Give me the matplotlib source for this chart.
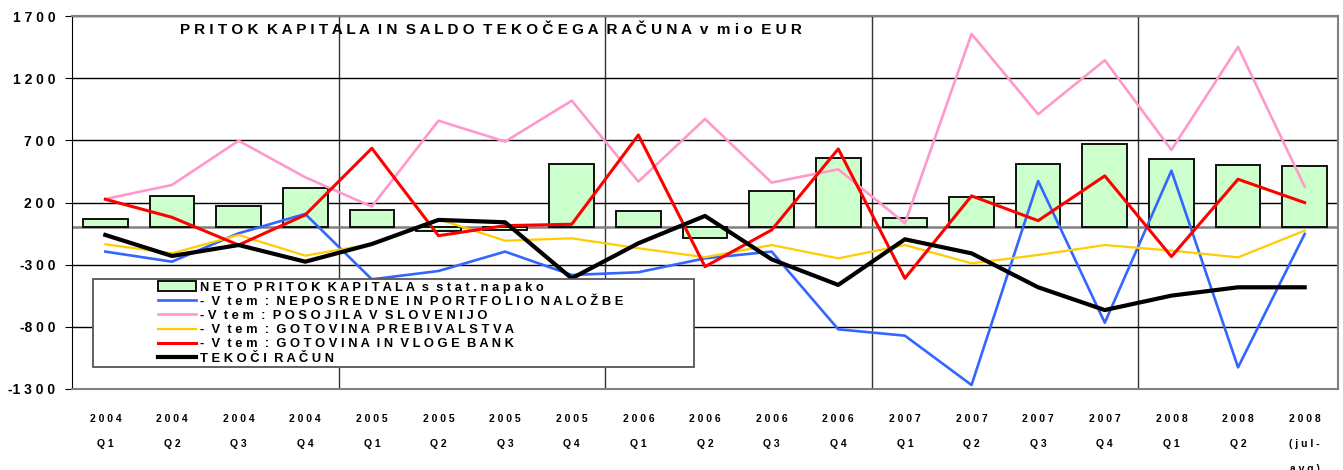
import numpy as np
import matplotlib.pyplot as plt
import matplotlib
from matplotlib.patches import Rectangle

matplotlib.rcParams['font.family'] = ['Liberation Sans', 'DejaVu Sans']
matplotlib.rcParams['font.weight'] = 'bold'

# data (mio EUR)
years = ['2004'] * 4 + ['2005'] * 4 + ['2006'] * 4 + ['2007'] * 4 + ['2008'] * 3
quarters = ['Q1', 'Q2', 'Q3', 'Q4'] * 4 + ['Q1', 'Q2', '(jul-\navg)']

neto = [68, 255, 175, 315, 143, -27, -25, 508, 132, -83, 295, 561,
        78, 242, 510, 671, 548, 502, 491]
neposredne = [-195, -276, -48, 108, -418, -351, -195, -383, -361, -249, -195, -820,
              -871, -1268, 373, -767, 456, -1126, -53]
posojila = [228, 341, 697, 403, 167, 858, 690, 1019, 368, 872, 360, 467,
            33, 1556, 910, 1344, 623, 1451, 327]
prebivalstva = [-136, -209, -61, -228, -134, 65, -107, -88, -168, -240, -142, -249,
                -142, -289, -222, -142, -187, -241, -26]
banke = [226, 81, -142, 100, 636, -67, 14, 25, 743, -316, -21, 631,
         -410, 253, 54, 414, -235, 387, 199]
tekoci = [-61, -230, -142, -276, -134, 60, 41, -410, -128, 92, -257, -463,
          -96, -209, -482, -665, -549, -482, -482]

legend_labels = ['NETO PRITOK KAPITALA s stat.napako',
                 '- V tem : NEPOSREDNE IN PORTFOLIO NALOŽBE',
                 '-V tem : POSOJILA V SLOVENIJO',
                 '- V tem : GOTOVINA PREBIVALSTVA',
                 '- V tem : GOTOVINA IN VLOGE BANK',
                 'TEKOČI RAČUN']
title = 'PRITOK KAPITALA IN SALDO TEKOČEGA RAČUNA v mio EUR'


def spaced(s):
    # excel style letter spacing
    return '  '.join(' '.join(w) for w in s.split(' '))


def xlabel(y, q):
    parts = [' '.join(p) for p in q.split('\n')]
    return ' '.join(y) + '\n\n' + '\n\n'.join(parts)


x = np.arange(len(neto))

fig = plt.figure(figsize=(13.43, 4.70), dpi=100)
ax = fig.add_axes([72 / 1343, 1 - 389 / 470, 1266 / 1343, 373 / 470])

bars = ax.bar(x, neto, width=0.67, color='#CCFFCC', edgecolor='black', linewidth=1.3,
              zorder=3)
l1, = ax.plot(x, neposredne, color='#3366FF', lw=1.9, zorder=4)
l2, = ax.plot(x, posojila, color='#FF99CC', lw=1.9, zorder=4)
l3, = ax.plot(x, prebivalstva, color='#FFCC00', lw=1.6, zorder=4)
l4, = ax.plot(x, banke, color='#FF0000', lw=2.2, zorder=5)
l5, = ax.plot(x, tekoci, color='black', lw=3.0, zorder=6)

ax.set_xlim(-0.5, len(x) - 0.5)
ax.set_ylim(-1300, 1700)
yt = np.arange(-1300, 1701, 500)
ax.set_yticks(yt)
ax.set_yticklabels([' '.join(str(v)) if v >= 0 else '-' + ' '.join(str(-v)) for v in yt],
                   fontsize=10, fontweight='bold')
ax.yaxis.grid(True, color='black', lw=1.0, zorder=1)
ax.axhline(0, color='#808080', lw=1.8, zorder=2)
for xv in [3.5, 7.5, 11.5, 15.5]:
    ax.axvline(xv, color='#333333', lw=1.0, zorder=1)

ax.set_xticks(x)
ax.set_xticklabels([xlabel(y, q) for y, q in zip(years, quarters)],
                   fontsize=7.5, fontweight='bold', linespacing=1.3, va='top')
ax.tick_params(axis='x', length=0, pad=18)
ax.tick_params(axis='y', length=5, direction='out', pad=7)
for s in ['top', 'right', 'bottom']:
    ax.spines[s].set_color('#808080')
    ax.spines[s].set_linewidth(1.5)
ax.spines['left'].set_color('black')

ax.text(108 / 1266, (389 - 30) / 373, spaced(title), transform=ax.transAxes,
        fontsize=10.95, fontweight='bold', va='center', ha='left')

# legend frame drawn separately, entries start further right like in excel
frame = Rectangle((93 / 1343, 1 - 367 / 470), (694 - 93) / 1343, 88 / 470,
                  transform=fig.transFigure, facecolor='white', edgecolor='#555555',
                  lw=1.3, zorder=9)
fig.patches.append(frame)
leg = fig.legend([bars, l1, l2, l3, l4, l5], [spaced(s) for s in legend_labels],
                 loc='upper left', bbox_to_anchor=(158 / 1343, 1 - 281.5 / 470),
                 fontsize=9.3, frameon=False, borderpad=0, labelspacing=0.17,
                 handlelength=2.95, handletextpad=0.3, borderaxespad=0)
leg.set_zorder(10)
for t in leg.get_texts():
    t.set_fontweight('bold')

fig.savefig('out.png', dpi=100)
